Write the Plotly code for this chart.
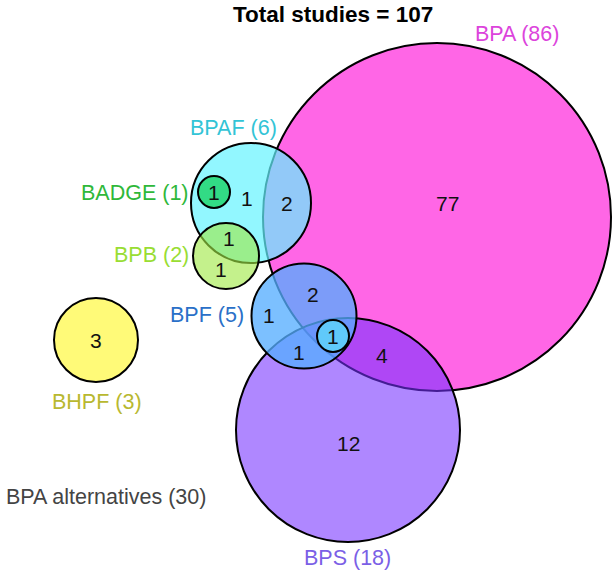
import plotly.graph_objects as go

# ---- data ----
total_studies = 107
set_names = ["BPA", "BPS", "BPF", "BPAF", "BPB", "BADGE", "BHPF"]
set_totals = [86, 18, 5, 6, 2, 1, 3]
alt_name = "BPA alternatives"
alt_total = 30
region_values = [77, 2, 1, 1, 1, 1, 1, 2, 1, 1, 4, 12, 3]

# ---- layout (Euler diagram geometry, in pixel space) ----
W, H = 616, 577
circle_geom = {  # cx, cy, r
    "BPA": (437, 217, 174),
    "BPS": (348, 430, 112),
    "BPF": (304, 316, 52.5),
    "BPAF": (251, 203, 60),
    "BPB": (226, 256, 33),
    "BADGE": (214, 192, 16),
    "INNER": (333, 336, 16),
    "BHPF": (96, 340, 42),
}
draw_order = ["BPA", "BPS", "BPF", "BPAF", "BPB", "BADGE", "INNER", "BHPF"]
fills = {
    "BPA": "rgba(255,102,230,1)",
    "BPS": "rgba(117,48,255,0.58)",
    "BPF": "rgba(85,173,255,0.77)",
    "BPAF": "rgba(100,243,255,0.70)",
    "BPB": "rgba(160,232,70,0.62)",
    "BADGE": "rgba(40,215,120,0.90)",
    "INNER": "rgba(95,205,250,0.92)",
    "BHPF": "rgba(255,250,120,1)",
}
label_style = {  # x, y, xanchor, colour
    "BPA": (517, 34, "center", "#dc44dc"),
    "BPS": (347, 558, "center", "#7b5fe6"),
    "BPF": (246, 315, "right", "#2a70c8"),
    "BPAF": (233, 128, "center", "#33c4d6"),
    "BPB": (191, 255, "right", "#99dd33"),
    "BADGE": (191, 193, "right", "#2fb83a"),
    "BHPF": (97, 402, "center", "#b8b830"),
}
region_pos = [
    (447, 203), (287, 203), (247, 198), (214, 192),
    (229, 238), (221, 269),
    (269, 315), (313, 294), (299, 352), (333, 336),
    (382, 355), (348, 443), (96, 340),
]

fig = go.Figure()
fig.add_trace(go.Scatter(x=[0, W], y=[0, H], mode="markers",
                         marker=dict(opacity=0), hoverinfo="skip", showlegend=False))

shapes = []
for key in draw_order:
    cx, cy, r = circle_geom[key]
    shapes.append(dict(type="circle", xref="x", yref="y",
                       x0=cx - r, x1=cx + r, y0=cy - r, y1=cy + r,
                       fillcolor=fills[key], line=dict(color="black", width=2)))

annotations = []
font_family = "Liberation Sans, Arial, sans-serif"
annotations.append(dict(x=333, y=14, xref="x", yref="y", showarrow=False,
                        text=f"<b>Total studies = {total_studies}</b>",
                        font=dict(size=22.5, color="black", family=font_family)))
for name, tot in zip(set_names, set_totals):
    x, y, xa, col = label_style[name]
    annotations.append(dict(x=x, y=y, xref="x", yref="y", showarrow=False,
                            xanchor=xa, text=f"{name} ({tot})",
                            font=dict(size=21.5, color=col, family=font_family)))
annotations.append(dict(x=4, y=497, xref="x", yref="y", showarrow=False,
                        xanchor="left", text=f"{alt_name} ({alt_total})",
                        font=dict(size=21.5, color="#444444", family=font_family)))
for v, (x, y) in zip(region_values, region_pos):
    annotations.append(dict(x=x, y=y, xref="x", yref="y", showarrow=False,
                            text=str(v),
                            font=dict(size=21, color="#111111", family=font_family)))

fig.update_layout(
    width=W, height=H, margin=dict(l=0, r=0, t=0, b=0),
    paper_bgcolor="white", plot_bgcolor="white",
    xaxis=dict(range=[0, W], visible=False, fixedrange=True),
    yaxis=dict(range=[H, 0], visible=False, fixedrange=True),
    shapes=shapes, annotations=annotations, showlegend=False,
)
fig.write_html("out.html", config={"displayModeBar": False},
               post_script="document.body.style.margin='0';document.body.style.overflow='hidden';")
